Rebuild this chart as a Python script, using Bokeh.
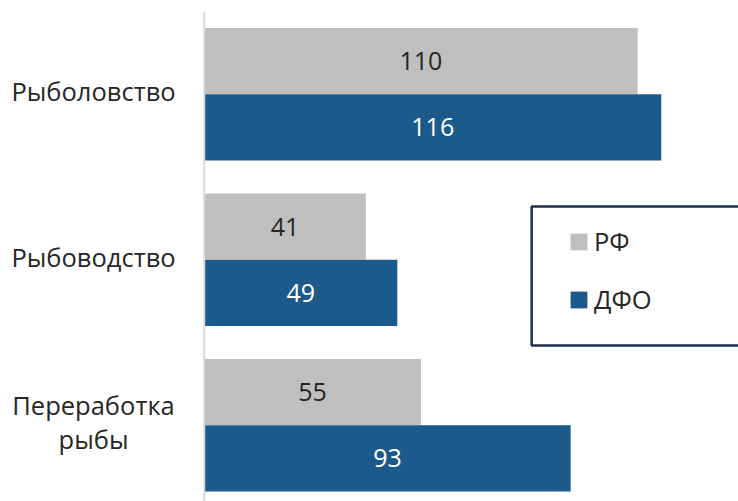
from bokeh.plotting import figure
from bokeh.models import ColumnDataSource, Range1d, LabelSet, Legend, LegendItem, Span, BoxAnnotation
from bokeh.core.properties import value
from bokeh.transform import dodge
from bokeh.embed import file_html
from bokeh.resources import INLINE

categories = ["Рыболовство", "Рыбоводство", "Переработка\nрыбы"]
series_names = ["РФ", "ДФО"]
rf_values = [110, 41, 55]
dfo_values = [116, 49, 93]

GRAY = "#bfbfbf"
BLUE = "#1d5a8c"
TEXT = "#262626"
FONT = "Open Sans"

x_start, x_end = -51.71, 135.6
line_step = 0.205  # vertical distance between lines of a wrapped category label
pos = list(range(len(categories)))

src = ColumnDataSource(dict(
    y=pos,
    rf=rf_values,
    dfo=dfo_values,
    rf_txt=[str(v) for v in rf_values],
    dfo_txt=[str(v) for v in dfo_values],
    rf_mid=[v / 2 for v in rf_values],
    dfo_mid=[v / 2 for v in dfo_values],
))

# one row per text line of the category labels, so that every line is centred
lab_txt, lab_y = [], []
for i, cat in enumerate(categories):
    lines = cat.split("\n")
    n = len(lines)
    for k, ln in enumerate(lines):
        lab_txt.append(ln)
        lab_y.append(i + (k - (n - 1) / 2) * line_step)
lab_src = ColumnDataSource(dict(x=[-28.1] * len(lab_txt), y=lab_y, text=lab_txt))

p = figure(width=738, height=501, output_backend="svg", toolbar_location=None,
           x_range=Range1d(x_start, x_end), y_range=Range1d(2.461, -0.5),
           x_axis_location=None, y_axis_location=None,
           min_border_left=0, min_border_right=0, min_border_top=11, min_border_bottom=0)
p.outline_line_color = None
p.xgrid.visible = False
p.ygrid.visible = False
p.background_fill_color = "white"

r_rf = p.hbar(y=dodge("y", -0.2, range=p.y_range), right="rf", left=0, height=0.4,
              source=src, fill_color=GRAY, line_color=None)
r_dfo = p.hbar(y=dodge("y", 0.2, range=p.y_range), right="dfo", left=0, height=0.4,
               source=src, fill_color=BLUE, line_color=None)

p.add_layout(Span(location=0, dimension="height", line_color="#d9d9d9", line_width=2))

p.add_layout(LabelSet(x="rf_mid", y=dodge("y", -0.2, range=p.y_range), text="rf_txt", source=src,
                      text_align="center", text_baseline="middle", text_font=value(FONT),
                      text_font_size=value("25px"), text_color=TEXT))
p.add_layout(LabelSet(x="dfo_mid", y=dodge("y", 0.2, range=p.y_range), text="dfo_txt", source=src,
                      text_align="center", text_baseline="middle", text_font=value(FONT),
                      text_font_size=value("25px"), text_color="white"))

p.add_layout(LabelSet(x="x", y="y", text="text", source=lab_src, y_offset=3,
                      text_align="center", text_baseline="middle", text_font=value(FONT),
                      text_font_size=value("25.5px"), text_color=TEXT))

p.add_layout(BoxAnnotation(left=83.1, right=x_end + 30, top=0.678, bottom=1.518,
                           fill_alpha=0, line_color="#1c3049", line_alpha=1, line_width=2.5))

legend = Legend(items=[LegendItem(label=series_names[0], renderers=[r_rf]),
                       LegendItem(label=series_names[1], renderers=[r_dfo])],
                location=(568, 185), orientation="vertical",
                glyph_width=21, glyph_height=21, label_height=21, spacing=24,
                label_standoff=5, padding=0, margin=0,
                border_line_alpha=0, background_fill_alpha=0,
                label_text_font=FONT, label_text_font_size="25.5px", label_text_color=TEXT)
p.add_layout(legend)

open("out.html", "w").write(file_html(p, INLINE))
